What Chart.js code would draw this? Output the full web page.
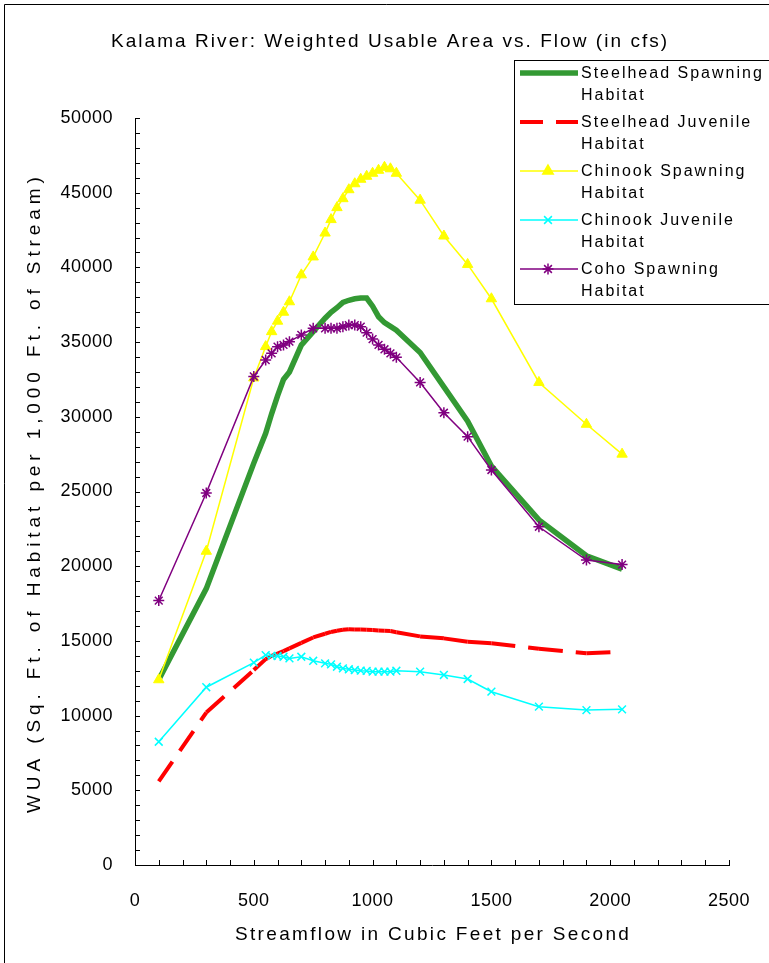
<!DOCTYPE html>
<html><head><meta charset="utf-8">
<script src="https://cdn.jsdelivr.net/npm/chart.js@4"></script>
<style>html,body{margin:0;padding:0;background:#fff;overflow:hidden}canvas{display:block}</style>
</head><body>
<canvas id="c" width="769" height="963"></canvas>
<script>
const chartTitle = "Kalama River: Weighted Usable Area vs. Flow (in cfs)";
const xAxisTitle = "Streamflow in Cubic Feet per Second";
const yAxisTitle = "WUA (Sq. Ft. of Habitat per 1,000 Ft. of Stream)";

const flows = [100, 300, 500, 550, 575, 600, 625, 650, 700, 750, 800, 825, 850, 875, 900, 925, 950, 975, 1000, 1025, 1050, 1075, 1100, 1200, 1300, 1400, 1500, 1700, 1900, 2050];

const steelheadSpawning = [12400, 18500, 26900, 28900, 30200, 31400, 32500, 33000, 34800, 35700, 36600, 37000, 37300, 37650, 37800, 37900, 37950, 37950, 37400, 36700, 36300, 36050, 35800, 34300, 32000, 29700, 26700, 23100, 20700, 19800];
const steelheadJuvenile = [5600, 10200, 13050, 13780, 14000, 14150, 14320, 14500, 14870, 15230, 15480, 15600, 15680, 15740, 15780, 15770, 15760, 15740, 15730, 15700, 15680, 15660, 15580, 15300, 15170, 14950, 14850, 14480, 14180, 14280];
const chinookSpawning = [12400, 21000, 32600, 34700, 35700, 36400, 37000, 37700, 39500, 40700, 42300, 43200, 44000, 44600, 45200, 45600, 45900, 46100, 46300, 46500, 46700, 46600, 46300, 44500, 42100, 40200, 37900, 32300, 29500, 27500];
const chinookJuvenile = [8250, 11900, 13550, 14050, 14000, 13990, 13940, 13830, 13940, 13670, 13500, 13430, 13270, 13160, 13100, 13050, 13010, 12990, 12940, 12940, 12940, 12940, 13000, 12940, 12720, 12450, 11600, 10600, 10370, 10420];
const cohoSpawning = [17700, 24900, 32700, 33800, 34250, 34690, 34810, 35030, 35480, 35920, 35920, 35920, 35920, 36030, 36140, 36140, 36030, 35630, 35200, 34810, 34520, 34250, 33980, 32300, 30270, 28670, 26440, 22640, 20410, 20110];

const seriesLabels = [
  ["Steelhead Spawning", "Habitat"],
  ["Steelhead Juvenile", "Habitat"],
  ["Chinook Spawning", "Habitat"],
  ["Chinook Juvenile", "Habitat"],
  ["Coho Spawning", "Habitat"]
];

const xTickValues = [0, 500, 1000, 1500, 2000, 2500];
const yTickValues = [0, 5000, 10000, 15000, 20000, 25000, 30000, 35000, 40000, 45000, 50000];

const FONT = "'Liberation Sans', Arial, sans-serif";
const pts = arr => flows.map((x, i) => ({x: x, y: arr[i]}));

const DASH_A = [24, 13];
const DASH_B = [24, 13, 24, 13];

const datasets = [
  {label: seriesLabels[0].join(' '), data: pts(steelheadSpawning), borderColor: '#339933', backgroundColor: '#339933', borderWidth: 5.5, pointRadius: 0, order: 5},
  {label: seriesLabels[1].join(' '), data: pts(steelheadJuvenile), borderColor: '#FF0000', backgroundColor: '#FF0000', borderWidth: 4, pointRadius: 0, order: 4,
    borderDash: DASH_A,
    segment: {borderDash: ctx => (ctx.p0DataIndex % 2 === 0 ? DASH_A : DASH_B)}},
  {label: seriesLabels[2].join(' '), data: pts(chinookSpawning), borderColor: '#FFFF00', backgroundColor: '#FFFF00', borderWidth: 1.5, pointStyle: 'triangle', pointRadius: 6, pointBorderWidth: 1, pointBorderColor: '#FFFF00', pointBackgroundColor: '#FFFF00', order: 3},
  {label: seriesLabels[3].join(' '), data: pts(chinookJuvenile), borderColor: '#00FFFF', backgroundColor: '#00FFFF', borderWidth: 1.5, pointStyle: 'crossRot', pointRadius: 5.5, pointBorderWidth: 1.5, pointBorderColor: '#00FFFF', order: 2},
  {label: seriesLabels[4].join(' '), data: pts(cohoSpawning), borderColor: '#800080', backgroundColor: '#800080', borderWidth: 1.5, pointStyle: 'star', pointRadius: 5.5, pointBorderWidth: 1.5, pointBorderColor: '#800080', order: 1}
];

// draw text so that it spans a given width (the original uses loose letter spacing)
function spacedText(ctx, text, x, y, font, targetWidth) {
  ctx.font = font;
  ctx.letterSpacing = '0px';
  const w = ctx.measureText(text).width;
  const sp = Math.max(0, (targetWidth - w) / (text.length - 1));
  ctx.letterSpacing = sp.toFixed(2) + 'px';
  ctx.textAlign = 'left';
  ctx.textBaseline = 'middle';
  ctx.fillText(text, x - targetWidth / 2, y);
}

const decorPlugin = {
  id: 'decor',
  beforeDraw(chart) {
    const ctx = chart.ctx;
    ctx.letterSpacing = '0.5px';
    ctx.save();
    ctx.fillStyle = '#fff';
    ctx.fillRect(0, 0, chart.width, chart.height);
    ctx.restore();
  },
  beforeDatasetsDraw(chart) {
    chart.ctx.letterSpacing = '0px';
  },
  afterDraw(chart) {
    const ctx = chart.ctx;
    const xs = chart.scales.x, ys = chart.scales.y;
    ctx.save();
    // inward minor ticks
    ctx.strokeStyle = '#000';
    ctx.lineWidth = 1;
    ctx.beginPath();
    for (let v = 0; v <= 2500; v += 100) {
      const px = Math.round(xs.getPixelForValue(v)) + 0.5;
      ctx.moveTo(px, ys.bottom); ctx.lineTo(px, ys.bottom - 5);
    }
    for (let v = 0; v <= 50000; v += 1000) {
      const py = Math.round(ys.getPixelForValue(v)) + 0.5;
      ctx.moveTo(xs.left, py); ctx.lineTo(xs.left + 5, py);
    }
    ctx.stroke();
    // outer frame (left & top edges visible)
    ctx.beginPath();
    ctx.moveTo(4.5, 963); ctx.lineTo(4.5, 4.5); ctx.lineTo(769, 4.5);
    ctx.stroke();
    ctx.fillStyle = '#000';
    // chart title
    spacedText(ctx, chartTitle, 389, 42, '19px ' + FONT, 556);
    // x axis title
    spacedText(ctx, xAxisTitle, (xs.left + xs.right) / 2, 935, '19px ' + FONT, 394);
    // y axis title (rotated)
    ctx.save();
    ctx.translate(35, 495);
    ctx.rotate(-Math.PI / 2);
    spacedText(ctx, yAxisTitle, 0, 0, '19px ' + FONT, 636);
    ctx.restore();
    // legend box
    const bx = 514.5, by = 60.5, bw = 300, bh = 244;
    ctx.fillStyle = '#fff';
    ctx.fillRect(bx, by, bw, bh);
    ctx.strokeStyle = '#000';
    ctx.lineWidth = 1;
    ctx.strokeRect(bx, by, bw, bh);
    const rowY = [73, 122, 171, 220, 269];
    chart.data.datasets.forEach((ds, i) => {
      const y = rowY[i];
      ctx.save();
      ctx.strokeStyle = ds.borderColor;
      ctx.lineWidth = ds.borderWidth;
      ctx.setLineDash(i === 1 ? [23, 13] : []);
      ctx.beginPath();
      ctx.moveTo(520, y); ctx.lineTo(578, y);
      ctx.stroke();
      ctx.setLineDash([]);
      if (ds.pointStyle && ds.pointRadius > 0) {
        ctx.fillStyle = ds.pointBackgroundColor || ds.borderColor;
        ctx.strokeStyle = ds.pointBorderColor || ds.borderColor;
        Chart.helpers.drawPoint(ctx, {pointStyle: ds.pointStyle, radius: ds.pointRadius, borderWidth: ds.pointBorderWidth, rotation: 0}, 548, y);
      }
      ctx.restore();
      ctx.fillStyle = '#000';
      ctx.font = '16px ' + FONT;
      ctx.letterSpacing = '2px';
      ctx.textAlign = 'left';
      ctx.textBaseline = 'middle';
      ctx.fillText(seriesLabels[i][0], 581, y + 1);
      ctx.fillText(seriesLabels[i][1], 581, y + 23);
    });
    ctx.restore();
  }
};

new Chart(document.getElementById('c'), {
  type: 'line',
  data: {datasets: datasets},
  options: {
    responsive: false,
    animation: false,
    devicePixelRatio: 1,
    layout: {padding: {top: 118, right: 40, left: 0, bottom: 0}},
    plugins: {legend: {display: false}, title: {display: false}, tooltip: {enabled: false}},
    elements: {line: {tension: 0, fill: false}},
    scales: {
      x: {
        type: 'linear', min: 0, max: 2500,
        afterBuildTicks: s => { s.ticks = xTickValues.map(v => ({value: v})); },
        afterFit: s => { s.height = 98; s.paddingLeft = 0; s.paddingRight = 0; },
        ticks: {color: '#000', font: {size: 18, family: FONT}, padding: 25, maxRotation: 0, callback: v => String(v)},
        grid: {drawOnChartArea: false, drawTicks: false},
        border: {display: true, color: '#000', width: 1},
        title: {display: false, text: xAxisTitle}
      },
      y: {
        type: 'linear', min: 0, max: 50000,
        afterBuildTicks: s => { s.ticks = yTickValues.map(v => ({value: v})); },
        afterFit: s => { s.width = 135; s.paddingTop = 0; s.paddingBottom = 0; },
        ticks: {color: '#000', font: {size: 18, family: FONT}, padding: 22, callback: v => String(v)},
        grid: {drawOnChartArea: false, drawTicks: false},
        border: {display: true, color: '#000', width: 1},
        title: {display: false, text: yAxisTitle}
      }
    }
  },
  plugins: [decorPlugin]
});
</script>
</body></html>
